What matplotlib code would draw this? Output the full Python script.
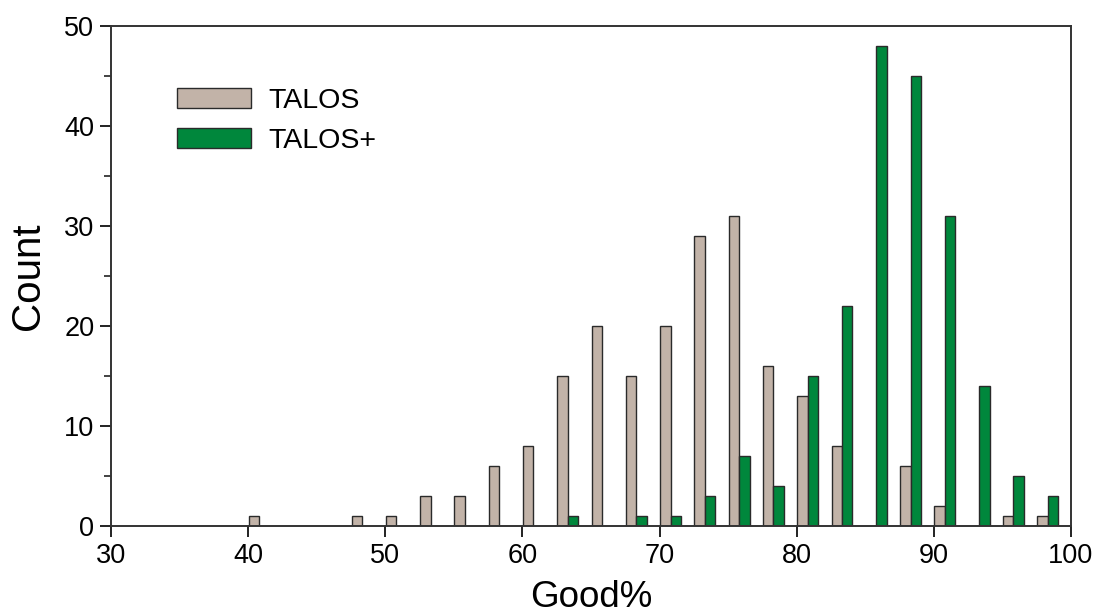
import matplotlib
matplotlib.use("Agg")
import matplotlib.pyplot as plt
from matplotlib.ticker import MultipleLocator
import numpy as np

plt.rcParams['font.family'] = ['Liberation Sans', 'DejaVu Sans']

bin_centers = [40.8, 43.3, 45.8, 48.3, 50.8, 53.3, 55.8, 58.3, 60.8,
               63.3, 65.8, 68.3, 70.8, 73.3, 75.8, 78.3, 80.8, 83.3,
               85.8, 88.3, 90.8, 93.3, 95.8, 98.3]
talos = [1, 0, 0, 1, 1, 3, 3, 6, 8,
         15, 20, 15, 20, 29, 31, 16, 13, 8,
         0, 6, 2, 0, 1, 1]
talos_plus = [0, 0, 0, 0, 0, 0, 0, 0, 0,
              1, 0, 1, 1, 3, 7, 4, 15, 22,
              48, 45, 31, 14, 5, 3]

fig = plt.figure(figsize=(10.99, 6.13), dpi=100)
ax = fig.add_axes([0.1010, 0.142, 0.9745 - 0.1010, 0.958 - 0.142])

w = 0.76
x = np.array(bin_centers)
t = np.array(talos)
tp = np.array(talos_plus)
m1 = t > 0
m2 = tp > 0
ax.bar(x[m1] - w / 2, t[m1], width=w, color='#C2B3A8', edgecolor='#2a2a2a',
       linewidth=1.0, label='TALOS')
ax.bar(x[m2] + w / 2, tp[m2], width=w, color='#00873C', edgecolor='#2a2a2a',
       linewidth=1.0, label='TALOS+')

ax.set_xlim(30, 100)
ax.set_ylim(0, 50)
ax.xaxis.set_major_locator(MultipleLocator(10))
ax.yaxis.set_major_locator(MultipleLocator(10))
ax.yaxis.set_minor_locator(MultipleLocator(5))
ax.tick_params(axis='both', which='major', direction='out', length=8, width=1.4,
               labelsize=19.5, color='#222222', pad=4)
ax.tick_params(axis='y', which='minor', direction='out', length=5, width=1.2,
               color='#222222')
for s in ax.spines.values():
    s.set_linewidth(1.4)
    s.set_color('#333333')

ax.set_xlabel('Good%', fontsize=26.5, labelpad=8)
ax.set_ylabel('Count', fontsize=29, labelpad=12)

leg = ax.legend(loc='upper left', bbox_to_anchor=(0.0687, 0.875), frameon=False,
                fontsize=20.5, handlelength=2.6, handleheight=0.7,
                handletextpad=0.6, labelspacing=0.47, borderpad=0, borderaxespad=0)

fig.savefig('out.png', dpi=100)
